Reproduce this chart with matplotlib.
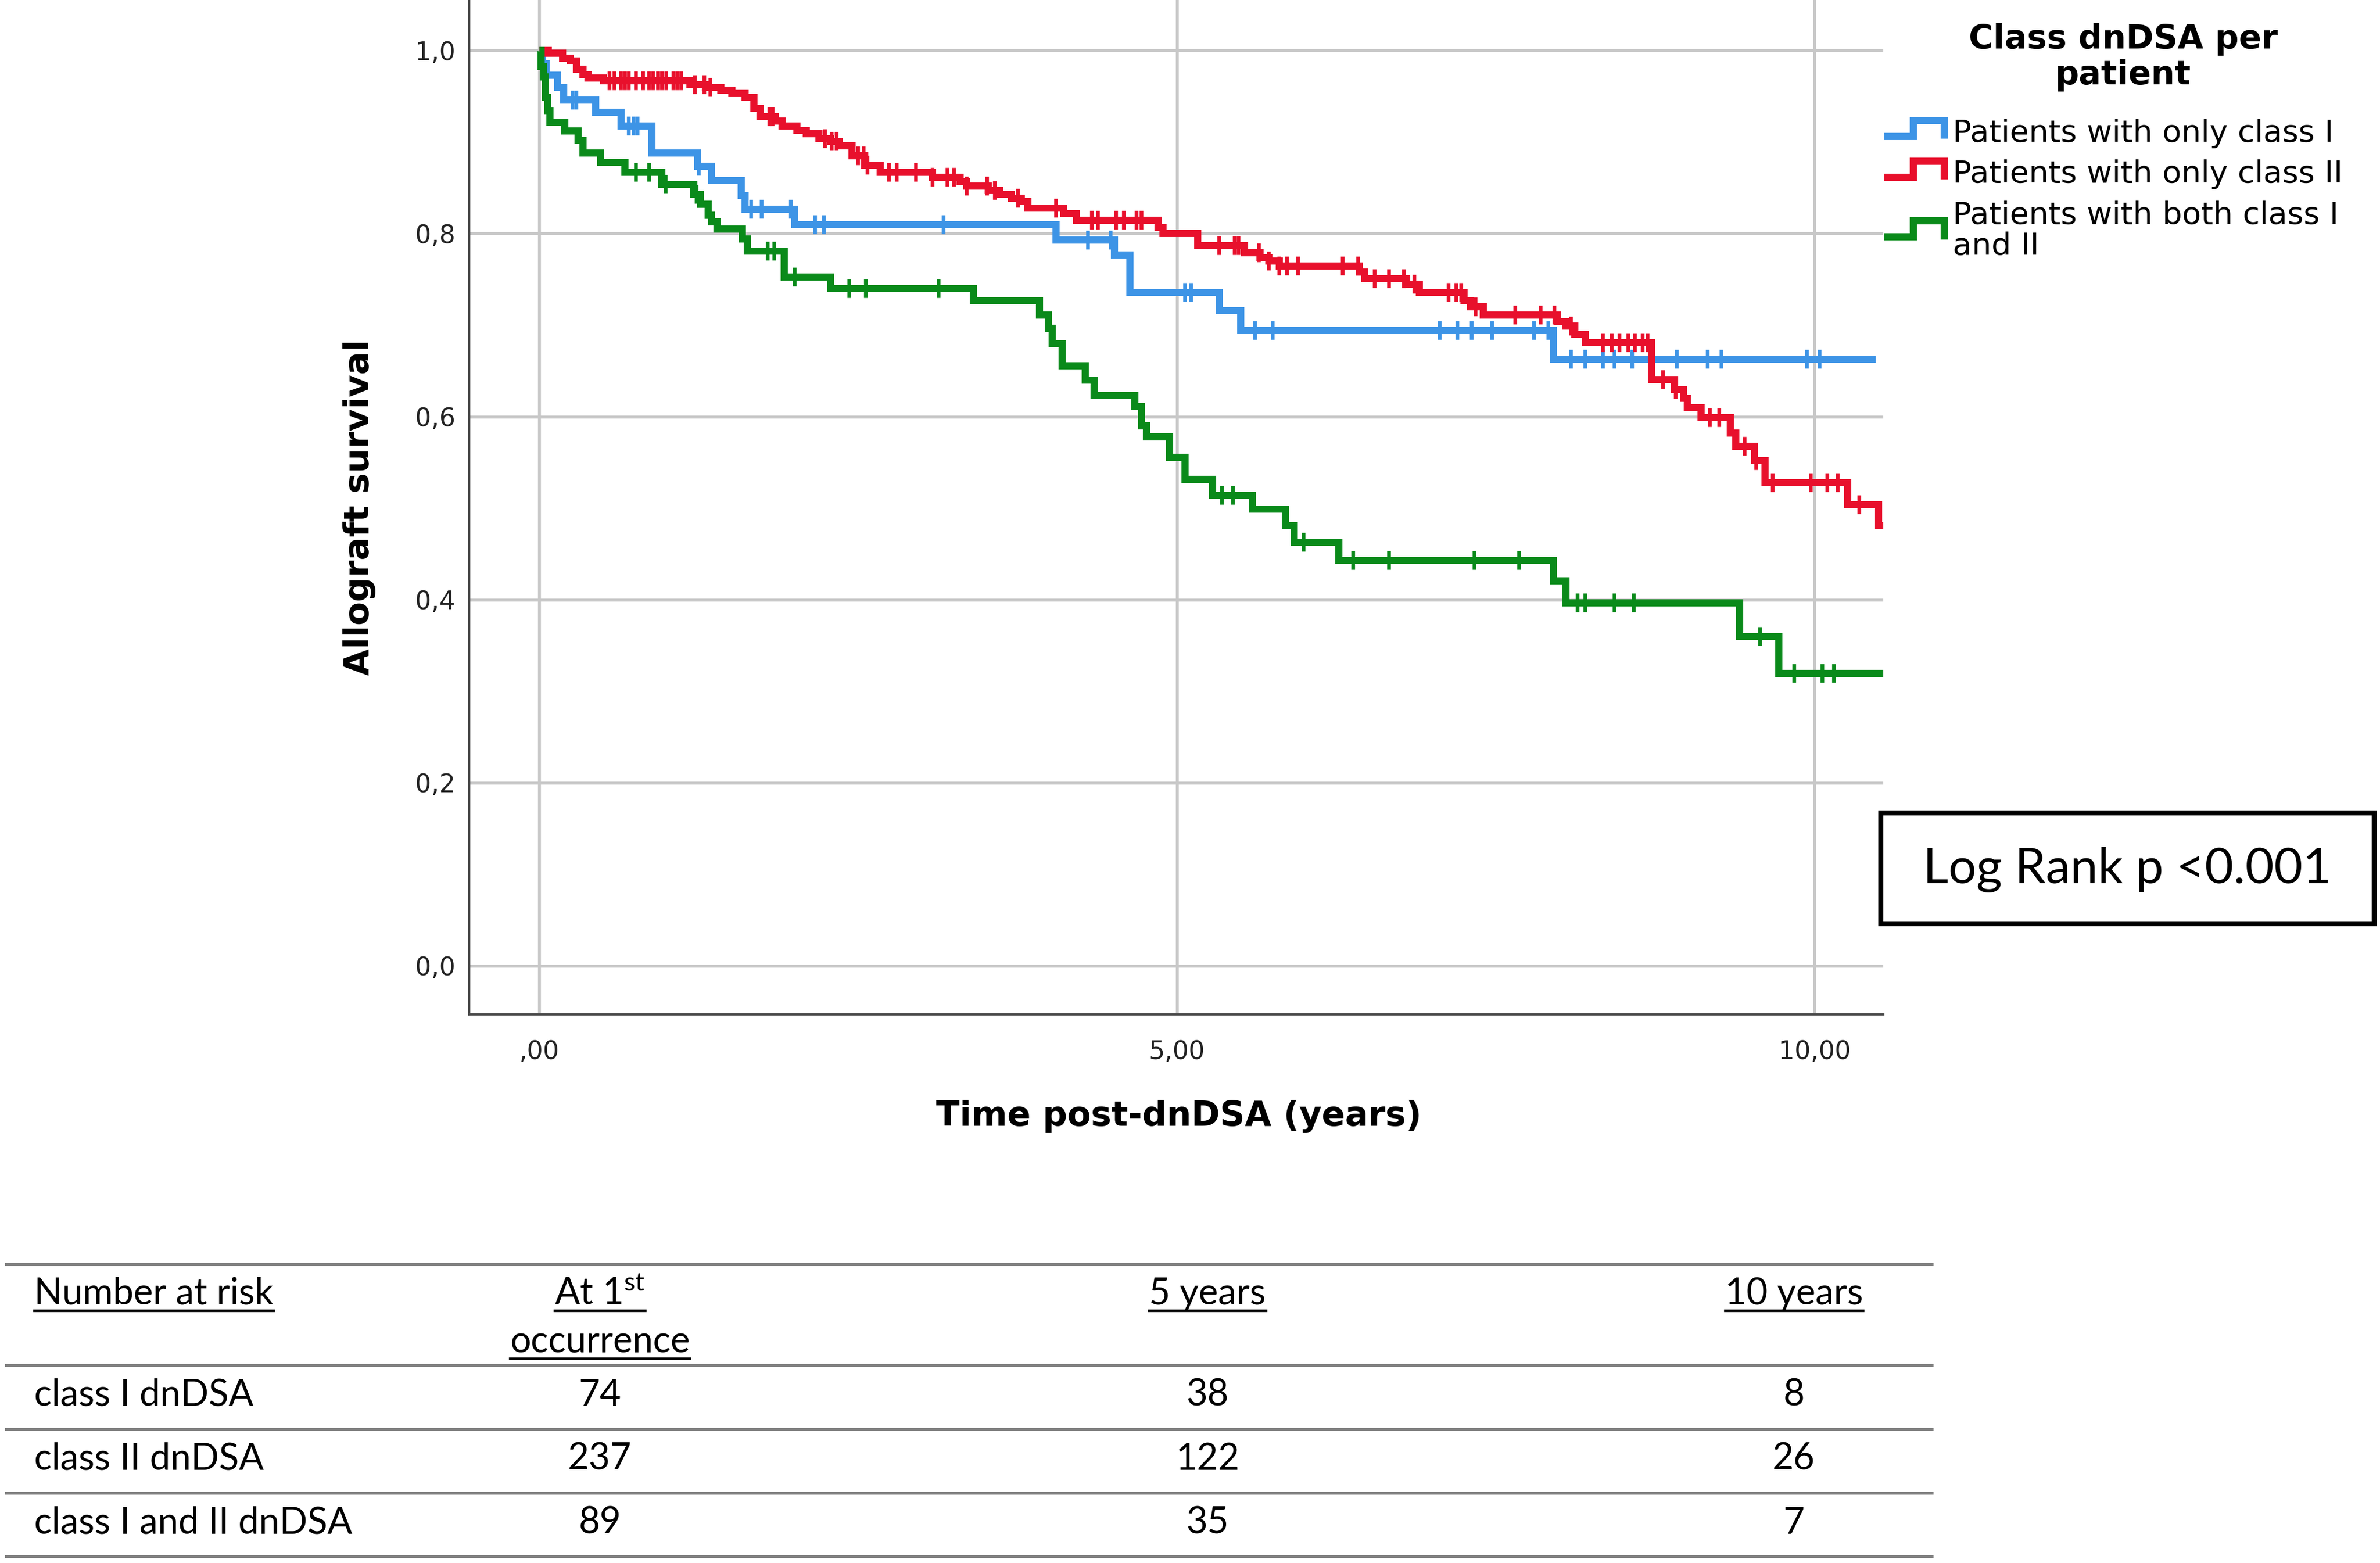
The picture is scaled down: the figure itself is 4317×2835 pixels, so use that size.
import matplotlib
matplotlib.use('Agg')
import matplotlib.pyplot as plt
import numpy as np
from matplotlib.lines import Line2D
from matplotlib.patches import Rectangle
from matplotlib.legend_handler import HandlerBase

plt.rcParams['font.family'] = ['DejaVu Sans']
plt.rcParams['mathtext.fontset'] = 'custom'
plt.rcParams['mathtext.rm'] = 'Lato'
plt.rcParams['mathtext.it'] = 'Lato:italic'
plt.rcParams['mathtext.bf'] = 'Lato:bold'

# ---------------- data ----------------
blue_t = [0, 0.02, 0.05, 0.14, 0.19, 0.44, 0.64, 0.88, 1.24, 1.35, 1.58, 1.61, 2.00,
          4.05, 4.51, 4.63, 5.33, 5.50, 7.95]
blue_s = [1.0, 0.986, 0.973, 0.960, 0.946, 0.933, 0.918, 0.888, 0.874, 0.858, 0.842, 0.827, 0.810,
          0.793, 0.777, 0.736, 0.716, 0.694, 0.663]
blue_end = 10.48
blue_cens = [0.26, 0.29, 0.70, 0.74, 0.77, 1.25, 1.66, 1.74, 1.97, 2.16, 2.23, 3.17, 4.30, 4.48,
             5.06, 5.11, 5.61, 5.75, 7.06, 7.20, 7.31, 7.47, 7.80, 7.91, 8.09, 8.20, 8.34, 8.43,
             8.57, 8.92, 9.16, 9.27, 9.94, 10.04]

red_t = [0, 0.07, 0.18, 0.24, 0.29, 0.34, 0.38, 0.50, 1.18, 1.30, 1.42, 1.51, 1.61, 1.68, 1.73,
         1.85, 1.90, 2.02, 2.09, 2.19, 2.28, 2.35, 2.45, 2.55, 2.67, 3.08, 3.30, 3.35, 3.52, 3.61,
         3.70, 3.78, 3.83, 4.11, 4.21, 4.85, 4.89, 5.16, 5.53, 5.65, 5.72, 5.80, 6.43, 6.47, 6.80,
         6.90, 7.25, 7.30, 7.40, 7.98, 8.05, 8.12, 8.20, 8.72, 8.90, 8.97, 9.00, 9.11, 9.34, 9.38,
         9.53, 9.61, 10.26, 10.50]
red_s = [1.0, 0.997, 0.992, 0.989, 0.980, 0.974, 0.970, 0.967, 0.963, 0.960, 0.957, 0.953, 0.949,
         0.937, 0.928, 0.923, 0.918, 0.913, 0.909, 0.904, 0.901, 0.896, 0.885, 0.875, 0.867, 0.862,
         0.857, 0.852, 0.847, 0.843, 0.839, 0.835, 0.828, 0.822, 0.815, 0.807, 0.800, 0.787, 0.779,
         0.774, 0.770, 0.765, 0.758, 0.751, 0.745, 0.736, 0.727, 0.720, 0.711, 0.704, 0.699, 0.690,
         0.681, 0.641, 0.630, 0.620, 0.610, 0.599, 0.582, 0.568, 0.552, 0.528, 0.504, 0.481]
red_end = 10.54
red_cens = [0.55, 0.585, 0.64, 0.67, 0.70, 0.755, 0.81, 0.86, 0.89, 0.93, 0.96, 0.995, 1.05, 1.08,
            1.11, 1.22, 1.29, 1.34, 1.80, 1.83, 2.24, 2.29, 2.33, 2.50, 2.54, 2.57, 2.74, 2.80, 2.95,
            3.08, 3.20, 3.25, 3.35, 3.51, 3.57, 3.75, 4.05, 4.33, 4.38, 4.52, 4.58, 4.68, 4.72, 5.33,
            5.45, 5.48, 5.64, 5.72, 5.80, 5.86, 5.95, 6.30, 6.42, 6.55, 6.66, 6.78, 6.86, 7.13, 7.19,
            7.23, 7.34, 7.65, 7.85, 7.96, 8.09, 8.34, 8.41, 8.47, 8.54, 8.59, 8.65, 8.69, 8.81, 8.91,
            9.18, 9.25, 9.45, 9.54, 9.67, 9.97, 10.10, 10.18, 10.35]

green_t = [0, 0.012, 0.03, 0.046, 0.063, 0.08, 0.20, 0.30, 0.34, 0.48, 0.67, 0.96, 1.21, 1.26,
           1.32, 1.35, 1.39, 1.59, 1.63, 1.92, 2.28, 3.40, 3.92, 3.99, 4.02, 4.10, 4.28, 4.35,
           4.67, 4.72, 4.76, 4.94, 5.06, 5.28, 5.59, 5.85, 5.92, 6.27, 7.95, 8.05, 9.41, 9.72]
green_s = [1.0, 0.983, 0.971, 0.949, 0.934, 0.922, 0.912, 0.902, 0.888, 0.878, 0.867, 0.854, 0.843,
           0.832, 0.820, 0.813, 0.805, 0.794, 0.781, 0.753, 0.740, 0.727, 0.711, 0.697, 0.680, 0.656,
           0.640, 0.623, 0.611, 0.590, 0.578, 0.556, 0.532, 0.514, 0.499, 0.481, 0.463, 0.443, 0.421,
           0.397, 0.360, 0.320]
green_end = 10.54
green_cens = [0.755, 0.86, 0.99, 1.23, 1.79, 1.84, 2.00, 2.43, 2.56, 3.13, 5.35, 5.44, 5.99, 6.38,
              6.66, 7.33, 7.68, 8.14, 8.20, 8.43, 8.58, 9.57, 9.84, 10.06, 10.15]

group_labels = ['Patients with only class I', 'Patients with only class II',
                'Patients with both class I\nand II']
group_colors = ['#3D94E6', '#E8102C', '#0A8A1A']

x_ticks = [0, 5, 10]
x_ticklabels = [',00', '5,00', '10,00']
y_ticks = [0.0, 0.2, 0.4, 0.6, 0.8, 1.0]
y_ticklabels = ['0,0', '0,2', '0,4', '0,6', '0,8', '1,0']

risk_header = 'Number at risk'
risk_cols = ['At 1$^{\\rm st}$', '5 years', '10 years']
risk_rows = ['class I dnDSA', 'class II dnDSA', 'class I and II dnDSA']
risk_vals = [[74, 38, 8], [237, 122, 26], [89, 35, 7]]

# ---------------- figure ----------------
W, H, DPI = 4317, 2835, 300
fig = plt.figure(figsize=(W / DPI, H / DPI), dpi=DPI)
fig.patch.set_facecolor('white')


def fx(px):
    return px / W


def fy(py):
    return 1 - py / H


LW = 3.1

ax = fig.add_axes([fx(851), fy(1840), fx(3416) - fx(851), fy(0) - fy(1840)])
ax.set_xlim(-0.55, 10.54)
ax.set_ylim(-0.053, 1.055)
ax.set_xticks(x_ticks)
ax.set_xticklabels(x_ticklabels)
ax.set_yticks(y_ticks)
ax.set_yticklabels(y_ticklabels)
ax.grid(True, color='#c8c8c8', lw=1.3)
ax.set_axisbelow(True)
for side in ['top', 'right']:
    ax.spines[side].set_visible(False)
for side in ['left', 'bottom']:
    ax.spines[side].set_color('#505050')
    ax.spines[side].set_linewidth(1.0)
ax.tick_params(axis='both', length=0, labelsize=11, colors='#222222')
ax.tick_params(axis='x', pad=11)
ax.tick_params(axis='y', pad=6)

ax.set_xlabel('Time post-dnDSA (years)', fontsize=15, fontweight='bold')
ax.xaxis.set_label_coords(0.5018, -0.1005)
ax.xaxis.label.set_va('center')
ax.set_ylabel('Allograft survival', fontsize=15, fontweight='bold')
ax.yaxis.set_label_coords(-0.0775, 0.5)
ax.yaxis.label.set_va('center')

groups = [(blue_t, blue_s, blue_end, blue_cens),
          (red_t, red_s, red_end, red_cens),
          (green_t, green_s, green_end, green_cens)]
handles = []
for (t, s, end, cens), col, lab in zip(groups, group_colors, group_labels):
    tt = list(t) + [end]
    ss = list(s) + [s[-1]]
    ln, = ax.step(tt, ss, where='post', color=col, lw=LW, label=lab,
                  solid_joinstyle='miter', solid_capstyle='butt')
    handles.append(ln)
    idx = np.searchsorted(np.array(t), np.array(cens), side='right') - 1
    ax.plot(cens, np.array(s)[idx], ls='none', marker='|', ms=8, mew=1.6, color=col)


class StepHandler(HandlerBase):
    def create_artists(self, legend, orig_handle, xdescent, ydescent, width, height,
                       fontsize, trans):
        x0, y0 = -xdescent, -ydescent
        xs = [x0, x0 + 0.47 * width, x0 + 0.47 * width, x0 + 0.97 * width, x0 + 0.97 * width]
        ys = [y0 + 0.26 * height, y0 + 0.26 * height, y0 + 1.0 * height, y0 + 1.0 * height,
              y0 + 0.15 * height]
        l = Line2D(xs, ys, color=orig_handle.get_color(), lw=LW,
                   solid_joinstyle='miter', solid_capstyle='butt')
        l.set_transform(trans)
        return [l]


leg = fig.legend(handles, group_labels, loc='upper left',
                 bbox_to_anchor=(fx(3417), fy(215)), frameon=False, fontsize=13.5,
                 handlelength=2.0, handletextpad=0.23, labelspacing=0.36, borderpad=0,
                 borderaxespad=0, handler_map={Line2D: StepHandler()})
for txt in leg.get_texts():
    txt.set_linespacing(1.05)

fig.text(fx(3851), fy(153), 'Class dnDSA per\npatient', ha='center', va='baseline',
         fontsize=14.5, fontweight='bold', linespacing=1.13)

# Log rank box
fig.add_artist(Rectangle((fx(3411), fy(1675)), fx(4306) - fx(3411), fy(1474) - fy(1675),
                         transform=fig.transFigure, fill=False, ec='black', lw=2.2))
fig.text(fx(3858), fy(1577), 'Log Rank p <0.001', ha='center', va='center',
         fontsize=21.5, family='Lato')

# ---------------- number at risk table ----------------
for ypx in [2293, 2476, 2592, 2708, 2823]:
    fig.add_artist(Line2D([fx(11), fx(3504)], [fy(ypx), fy(ypx)], color='#808080', lw=1.3,
                          transform=fig.transFigure))

col_x = [1088, 2190, 3254]
row_base = [2550, 2666, 2782]
tfs = 16
header_texts = []
header_texts.append((fig.text(fx(62), fy(2366), risk_header, ha='left', va='baseline',
                              fontsize=tfs, family='Lato'), 2366))
for cx, lab in zip(col_x, risk_cols):
    header_texts.append((fig.text(fx(cx), fy(2366), lab, ha='center', va='baseline',
                                  fontsize=tfs, family='Lato'), 2366))
header_texts.append((fig.text(fx(col_x[0]), fy(2453), 'occurrence', ha='center',
                              va='baseline', fontsize=tfs, family='Lato'), 2453))
for rb, rlab, vals in zip(row_base, risk_rows, risk_vals):
    fig.text(fx(62), fy(rb), rlab, ha='left', va='baseline', fontsize=tfs, family='Lato')
    for cx, v in zip(col_x, vals):
        fig.text(fx(cx), fy(rb), str(v), ha='center', va='baseline', fontsize=tfs,
                 family='Lato')

fig.canvas.draw()
renderer = fig.canvas.get_renderer()
for t, base in header_texts:
    bb = t.get_window_extent(renderer)
    yline = fy(base + 11)
    fig.add_artist(Line2D([bb.x0 / W, bb.x1 / W], [yline, yline], color='black', lw=1.1,
                          transform=fig.transFigure))

fig.savefig('out.png', dpi=DPI, facecolor='white')
